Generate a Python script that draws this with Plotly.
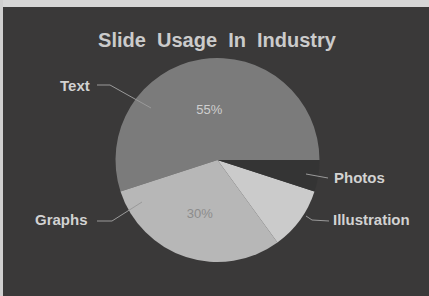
import plotly.graph_objects as go

# Data
categories = ["Text", "Graphs", "Illustration", "Photos"]
shares = [55, 30, 10, 5]
inside_labels = ["55%", "30%", "", ""]
title_text = "Slide\u00a0 Usage\u00a0 In\u00a0 Industry"

W, H = 429, 296
BG = "#3a3939"
slice_colors = ["#7b7b7b", "#b7b7b7", "#cbcbcb", "#343434"]
inside_font_colors = ["#cfcfcf", "#8c8c8c", "#cbcbcb", "#343434"]

def px(x, y):
    return x / W, 1 - y / H

fig = go.Figure()
fig.add_trace(go.Pie(
    labels=categories,
    values=shares,
    text=inside_labels,
    textinfo="text",
    textposition="inside",
    insidetextorientation="horizontal",
    insidetextfont=dict(color=inside_font_colors, size=13, family="Liberation Sans"),
    marker=dict(colors=slice_colors, line=dict(width=0)),
    sort=False,
    direction="counterclockwise",
    rotation=-108,
    showlegend=False,
    hoverinfo="label+percent",
    domain=dict(x=[115 / W, 320 / W], y=[1 - 262 / H, 1 - 58 / H]),
))

label_font = dict(family="Liberation Sans", size=15, color="#d2d2d2")
# outer labels: (name, x, y, anchor)
outer = [
    ("Text", 91, 85, "right"),
    ("Graphs", 89, 219, "right"),
    ("Photos", 333, 177, "left"),
    ("Illustration", 332, 219, "left"),
]
for name, x, y, anc in outer:
    X, Y = px(x, y)
    fig.add_annotation(x=X, y=Y, xref="paper", yref="paper", text=f"<b>{name}</b>",
                       showarrow=False, xanchor=anc, yanchor="middle", font=label_font,
                       borderpad=0)

leaders = [
    [(97, 85), (110, 85), (151, 108)],
    [(97, 221), (112, 221), (142, 202)],
    [(306, 174), (328, 178)],
    [(306, 216), (312, 220), (329, 221)],
]
for pts in leaders:
    path = ""
    for i, (x, y) in enumerate(pts):
        X, Y = px(x, y)
        path += ("M" if i == 0 else " L") + f" {X} {Y}"
    fig.add_shape(type="path", path=path, xref="paper", yref="paper",
                  line=dict(color="#9a9a9a", width=1))

# light photo frame at top and left edge
fig.add_shape(type="rect", xref="paper", yref="paper", x0=0, x1=1, y0=1 - 7 / H, y1=1,
              fillcolor="#d6d6d6", line=dict(width=0), layer="above")
fig.add_shape(type="rect", xref="paper", yref="paper", x0=0, x1=3 / W, y0=0, y1=1,
              fillcolor="#cfcfcf", line=dict(width=0), layer="above")

fig.update_layout(
    width=W, height=H,
    margin=dict(l=0, r=0, t=0, b=0),
    paper_bgcolor=BG,
    plot_bgcolor=BG,
    title=dict(text=f"<b>{title_text}</b>", x=217 / W, xanchor="center",
               y=1 - 40 / H, yanchor="middle", yref="paper",
               font=dict(family="Liberation Sans", size=20, color="#cbcbcb")),
)

fig.write_html("out.html", config={"displayModeBar": False},
               post_script="document.body.style.margin='0';document.body.style.overflow='hidden';")
